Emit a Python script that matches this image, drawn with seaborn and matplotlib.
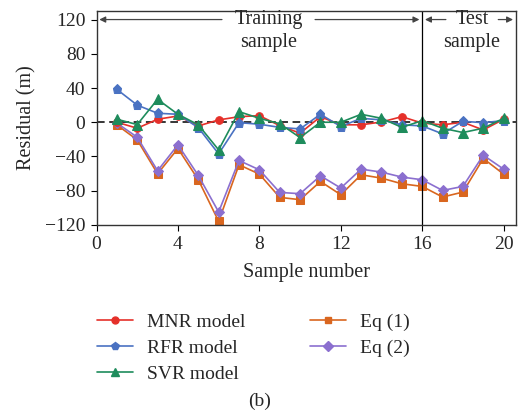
import numpy as np
import pandas as pd
import matplotlib
matplotlib.use("Agg")
import matplotlib.pyplot as plt
import seaborn as sns
from matplotlib.lines import Line2D

samples = list(range(1, 21))
mnr = [0, -7, 3.5, 7.3, -4.3, 2.7, 6.5, 7.7, -4, -12.8, 6.5, -3, -3, 0.3, 6.5, -1, -3, 0, -9, 3.5]
rfr = [38.4, 20, 10.5, 9.3, -6.3, -37, -0.5, -2.3, -6, -7.8, 9.3, -5, 4.6, 2.7, -3, -4.3, -13.6, 1.1, -0.5, 1.9]
svr = [3.5, -2.7, 26.8, 9.3, -3, -32.3, 12.4, 4.6, -1.7, -17.9, 0, 0, 9.3, 4.6, -6, 1.9, -7, -12, -7, 4.6]
eq1 = [-3.1, -20.6, -60.2, -30.7, -67.2, -115.8, -49.7, -60.6, -87.8, -90.5, -69.2, -84.7, -61.4, -65.3, -71.9, -75, -87.4, -81.6, -42.4, -60.6]
eq2 = [-1, -17.5, -56.7, -26.4, -62.2, -104.9, -44.7, -55.6, -82, -83.5, -62.6, -76.9, -54.8, -58.3, -64.1, -67.2, -79.7, -75, -38.5, -54.8]
series_names = ["MNR model", "RFR model", "SVR model", "Eq (1)", "Eq (2)"]
x_ticks = [0, 4, 8, 12, 16, 20]
y_ticks = [-120, -80, -40, 0, 40, 80, 120]

colors = ["#e5302a", "#4a72c2", "#1e8c5c", "#d9661f", "#8b6fcf"]
markers = ["o", "p", "^", "s", "D"]
msizes = [5.5, 6.5, 6.5, 5.5, 5.5]

sns.set_style("ticks")
plt.rcParams['font.family'] = ['Liberation Serif', 'DejaVu Serif']

fig = plt.figure(figsize=(5.2, 4.15), dpi=100)
ax = fig.add_axes([0.1856, 0.458, 0.8064, 0.5155])

vals = [mnr, rfr, svr, eq1, eq2]
df = pd.DataFrame({"x": samples * 5,
                   "y": sum(vals, []),
                   "s": sum([[n] * 20 for n in series_names], [])})
order = [3, 4, 0, 1, 2]
for i in order:
    name = series_names[i]
    sub = df[df["s"] == name]
    sns.lineplot(data=sub, x="x", y="y", ax=ax, color=colors[i], marker=markers[i],
                 markersize=msizes[i], markeredgecolor=colors[i], linewidth=1.2,
                 label=name, legend=False)

ax.axhline(0, color="black", linestyle=(0, (5, 3)), linewidth=1.1, zorder=0)
ax.axvline(16, color="black", linewidth=0.9)

ax.set_xlim(0, 20.6)
ax.set_ylim(-120, 130)
ax.set_xticks(x_ticks)
ax.set_yticks(y_ticks)
ax.set_yticklabels([str(v).replace("-", "\u2212") for v in y_ticks])
ax.tick_params(direction="out", length=4, width=0.8, labelsize=14, color="black", pad=4)
for sp in ax.spines.values():
    sp.set_color("#333333")
    sp.set_linewidth(1.0)
ax.set_xlabel("Sample number", fontsize=14.5, labelpad=7)
ax.set_ylabel("Residual (m)", fontsize=14.5, labelpad=6)

# annotations
ya = 120
ap = dict(arrowstyle="-|>", color="#444444", lw=0.9, mutation_scale=9)
ax.annotate("", xy=(0, ya), xytext=(6.3, ya), arrowprops=ap)
ax.annotate("", xy=(16, ya), xytext=(10.6, ya), arrowprops=ap)
ax.text(8.45, ya, "Training", ha="center", va="center", fontsize=14.5)
ax.text(8.45, ya - 27, "sample", ha="center", va="center", fontsize=14.5)
ax.annotate("", xy=(16, ya), xytext=(17.3, ya), arrowprops=ap)
ax.annotate("", xy=(20.6, ya), xytext=(19.6, ya), arrowprops=ap)
ax.text(18.45, ya, "Test", ha="center", va="center", fontsize=14.5)
ax.text(18.45, ya - 27, "sample", ha="center", va="center", fontsize=14.5)

hl = [Line2D([], [], color=colors[i], marker=markers[i], markersize=msizes[i] - 0.5, linewidth=1.2)
      for i in range(5)]
leg = fig.legend(hl, series_names, loc="upper left", bbox_to_anchor=(0.153, 0.287), ncol=2,
                 frameon=False, fontsize=14, handlelength=1.85, columnspacing=3.35,
                 labelspacing=0.42, handletextpad=0.7)
fig.text(0.5, 0.033, "(b)", ha="center", va="center", fontsize=14)

fig.savefig("out.png", dpi=100)
